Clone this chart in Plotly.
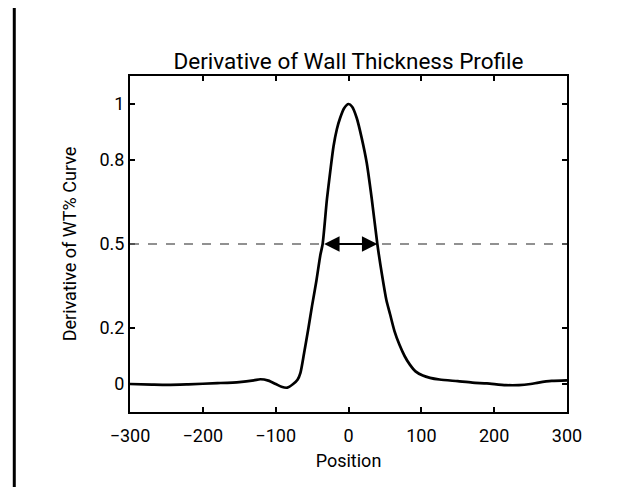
import plotly.graph_objects as go

# Data
position = [-300, -270, -248, -220, -180, -150, -130, -121, -110, -100, -92, -84, -76,
            -70, -66, -61, -55, -50, -44, -38.7, -35.5, -29.6, -25, -20.5, -16, -11.5,
            -6, 0, 5, 11.3, 18, 25, 32, 39.6, 46, 52, 57, 63, 70, 77, 84, 92, 102,
            112, 125, 150, 170, 190, 216, 234, 250, 261, 279, 300]
derivative = [0.0, -0.002, -0.003, -0.001, 0.003, 0.007, 0.013, 0.017, 0.012, 0.0, -0.01,
              -0.013, 0.0, 0.015, 0.04, 0.11, 0.2, 0.28, 0.37, 0.46, 0.5, 0.66, 0.76,
              0.85, 0.91, 0.95, 0.985, 1.0, 0.99, 0.95, 0.88, 0.79, 0.66, 0.5, 0.39,
              0.3, 0.25, 0.19, 0.14, 0.1, 0.07, 0.045, 0.03, 0.022, 0.016,
              0.01, 0.005, 0.002, -0.004, -0.004, 0.0, 0.005, 0.011, 0.013]

half_max = 0.5
fwhm_left = -35.5
fwhm_right = 39.6

x_ticks = [-300, -200, -100, 0, 100, 200, 300]
x_ticktext = ["\u2212300", "\u2212200", "\u2212100", "0", "100", "200", "300"]
y_ticks = [0, 0.2, 0.5, 0.8, 1]
y_ticktext = ["0", "0.2", "0.5", "0.8", "1"]

FONT = "Roboto"

fig = go.Figure()
fig.add_trace(go.Scatter(
    x=position, y=derivative, mode="lines",
    line=dict(color="black", width=2.7, shape="spline", smoothing=0.7),
    showlegend=False, hoverinfo="skip"))

# half-max dashed reference line
fig.add_shape(type="line", xref="x", yref="y", x0=x_ticks[0], x1=x_ticks[-1],
              y0=half_max, y1=half_max,
              line=dict(color="#6e6e6e", width=1.5, dash="dash"))

# double-headed arrow spanning the FWHM
fig.add_annotation(x=fwhm_right, y=half_max, ax=fwhm_left, ay=half_max,
                   xref="x", yref="y", axref="x", ayref="y", text="",
                   showarrow=True, arrowhead=2, startarrowhead=2,
                   arrowside="end+start", arrowsize=1.4, startarrowsize=1.4,
                   arrowwidth=2.2, arrowcolor="black")

# left frame border of the original figure
fig.add_shape(type="line", xref="paper", yref="paper",
              x0=-0.2648, x1=-0.2648, y0=-0.3, y1=1.3,
              line=dict(color="black", width=3))

axis_common = dict(showline=True, linecolor="black", linewidth=2, mirror="ticks",
                   ticks="inside", ticklen=5, tickwidth=1.6, tickcolor="black",
                   showgrid=False, zeroline=False,
                   tickfont=dict(family=FONT, size=18, color="black"))

fig.update_xaxes(range=[-300, 300], tickvals=x_ticks, ticktext=x_ticktext,
                 ticklabelstandoff=6,
                 title=dict(text="Position", font=dict(family=FONT, size=18, color="black"),
                            standoff=10),
                 **axis_common)
fig.update_yaxes(range=[-0.1, 1.1], tickvals=y_ticks, ticktext=y_ticktext,
                 title=dict(text="Derivative of WT% Curve",
                            font=dict(family=FONT, size=18, color="black"), standoff=18),
                 **axis_common)

fig.update_layout(
    width=635, height=487,
    margin=dict(l=122, r=76, t=68, b=83, pad=0),
    paper_bgcolor="white", plot_bgcolor="white",
    title=dict(text="Derivative of Wall Thickness Profile",
               font=dict(family=FONT, size=22.5, color="black"),
               x=0.5, xref="paper", xanchor="center",
               y=1 - 53 / 487, yref="container", yanchor="middle"),
)

fig.write_html("out.html")
